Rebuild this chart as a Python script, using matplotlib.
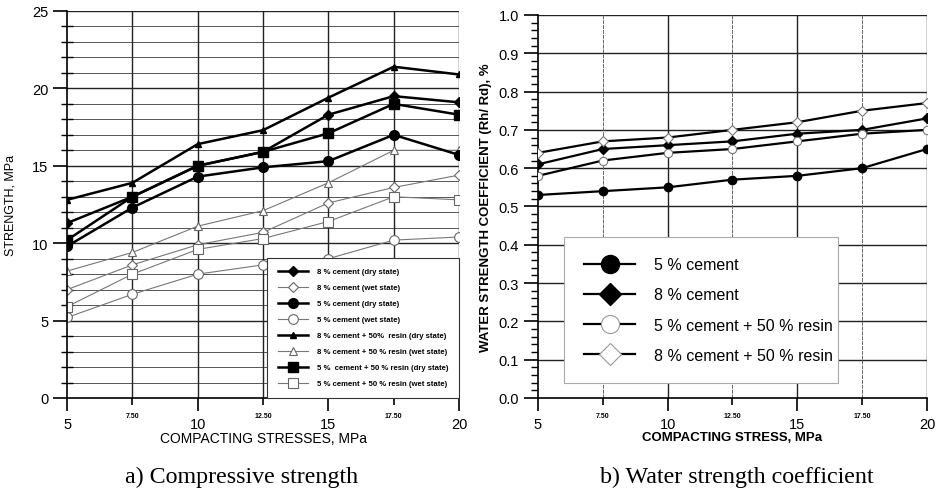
import matplotlib
matplotlib.use("Agg")
import matplotlib.pyplot as plt
from matplotlib.ticker import MultipleLocator, FixedLocator, FixedFormatter, FormatStrFormatter
from matplotlib.lines import Line2D

plt.rcParams['font.family'] = ['Liberation Sans', 'DejaVu Sans']

stress = [5, 7.5, 10, 12.5, 15, 17.5, 20]

# Compressive strength (MPa)
c8_dry = [11.3, 13.0, 15.0, 15.9, 18.3, 19.5, 19.1]
c8_wet = [7.0, 8.6, 9.9, 10.7, 12.6, 13.6, 14.4]
c5_dry = [9.8, 12.3, 14.3, 14.9, 15.3, 17.0, 15.7]
c5_wet = [5.2, 6.7, 8.0, 8.6, 9.0, 10.2, 10.4]
c8r_dry = [12.8, 13.9, 16.4, 17.3, 19.4, 21.4, 20.9]
c8r_wet = [8.2, 9.4, 11.1, 12.1, 13.9, 16.0, 16.0]
c5r_dry = [10.2, 13.0, 15.0, 15.9, 17.1, 19.0, 18.3]
c5r_wet = [5.9, 8.0, 9.6, 10.3, 11.4, 13.0, 12.8]

# Water strength coefficient
w5 = [0.53, 0.54, 0.55, 0.57, 0.58, 0.60, 0.65]
w8 = [0.61, 0.65, 0.66, 0.67, 0.69, 0.70, 0.73]
w5r = [0.58, 0.62, 0.64, 0.65, 0.67, 0.69, 0.70]
w8r = [0.64, 0.67, 0.68, 0.70, 0.72, 0.75, 0.77]

major_x = [5, 10, 15, 20]
minor_x = [7.5, 12.5, 17.5]
minor_x_labels = ['7.50', '12.50', '17.50']

fig = plt.figure(figsize=(9.43, 5.02), dpi=100)


def style_x(ax):
    ax.xaxis.set_major_locator(FixedLocator(major_x))
    ax.xaxis.set_minor_locator(FixedLocator(minor_x))
    ax.xaxis.set_minor_formatter(FixedFormatter(minor_x_labels))
    ax.tick_params(axis='x', which='major', length=9.5, width=1.2, labelsize=10.5, pad=4)
    ax.tick_params(axis='x', which='minor', length=5, width=1.2, labelsize=5, pad=5)
    for lab in ax.get_xticklabels(which='minor'):
        lab.set_fontweight('bold')
    for sp in ['top', 'right']:
        ax.spines[sp].set_visible(False)
    ax.spines['left'].set_linewidth(1.2)
    ax.spines['bottom'].set_linewidth(1.2)


# ---------------- Left chart ----------------
ax1 = fig.add_axes([0.0711, 0.2052, 0.4157, 0.7709])
ax1.set_xlim(5, 20)
ax1.set_ylim(0, 25)
style_x(ax1)

for y in range(1, 26):
    ax1.axhline(y, color='#222222' if y % 5 == 0 else '#555555',
                lw=1.0 if y % 5 == 0 else 0.7, zorder=0)
for x in stress[1:]:
    ax1.axvline(x, color='#222222', lw=1.0, zorder=0)

ax1.yaxis.set_major_locator(MultipleLocator(5))
ax1.yaxis.set_minor_locator(MultipleLocator(1))
ax1.tick_params(axis='y', which='major', length=10, width=1.2, labelsize=10.5, pad=3.5)
ax1.tick_params(axis='y', which='minor', direction='inout', length=8, width=1.0)

ax1.set_xlabel('COMPACTING STRESSES, MPa', fontsize=10, labelpad=0)
ax1.set_ylabel('STRENGTH, MPa', fontsize=9, labelpad=11)

dry_kw = dict(color='black', lw=1.8, zorder=3)
wet_kw = dict(color='#777777', lw=0.8, markerfacecolor='white',
              markeredgecolor='#666666', markeredgewidth=0.8, zorder=2)

ax1.plot(stress, c8_dry, marker='D', markersize=5, label='8 % cement (dry state)', **dry_kw)
ax1.plot(stress, c8_wet, marker='D', markersize=5, label='8 % cement (wet state)', **wet_kw)
ax1.plot(stress, c5_dry, marker='o', markersize=7, label='5 % cement (dry state)', **dry_kw)
ax1.plot(stress, c5_wet, marker='o', markersize=7, label='5 % cement (wet state)', **wet_kw)
ax1.plot(stress, c8r_dry, marker='^', markersize=5, label='8 % cement + 50%  resin (dry state)', **dry_kw)
ax1.plot(stress, c8r_wet, marker='^', markersize=6, label='8 % cement + 50 % resin (wet state)', **wet_kw)
ax1.plot(stress, c5r_dry, marker='s', markersize=7, label='5 %  cement + 50 % resin (dry state)', **dry_kw)
ax1.plot(stress, c5r_wet, marker='s', markersize=7, label='5 % cement + 50 % resin (wet state)', **wet_kw)

leg1 = ax1.legend(loc='lower right', bbox_to_anchor=(1.0, 0.0), fontsize=5.6,
                  handlelength=3.9, labelspacing=1.1, borderpad=1.35,
                  handletextpad=1.15, frameon=True, fancybox=False,
                  edgecolor='#333333', framealpha=1.0, borderaxespad=0.0)
leg1.get_frame().set_linewidth(0.8)
for t in leg1.get_texts():
    t.set_fontweight('bold')

# ---------------- Right chart ----------------
ax2 = fig.add_axes([0.5705, 0.2052, 0.4125, 0.763])
ax2.set_xlim(5, 20)
ax2.set_ylim(0, 1.0)
style_x(ax2)

for i in range(1, 11):
    ax2.axhline(i / 10, color='#222222', lw=1.0, zorder=0)
for x in minor_x:
    ax2.axvline(x, color='#666666', lw=0.7, ls=(0, (4, 1)), zorder=0)
for x in [10, 15, 20]:
    ax2.axvline(x, color='#222222', lw=1.0, zorder=0)

ax2.yaxis.set_major_locator(MultipleLocator(0.1))
ax2.yaxis.set_minor_locator(MultipleLocator(0.02))
ax2.yaxis.set_major_formatter(FormatStrFormatter('%.1f'))
ax2.tick_params(axis='y', which='major', length=10, width=1.2, labelsize=10.5, pad=3.5)
ax2.tick_params(axis='y', which='minor', length=5, width=1.0)

ax2.set_xlabel('COMPACTING STRESS, MPa', fontsize=9.5, fontweight='bold', labelpad=0)
ax2.set_ylabel('WATER STRENGTH COEFFICIENT (Rh/ Rd), %', fontsize=9.5, fontweight='bold', labelpad=5)

lk = dict(color='black', lw=1.6, zorder=3)
ax2.plot(stress, w5, marker='o', markersize=6, **lk)
ax2.plot(stress, w8, marker='D', markersize=5, **lk)
ax2.plot(stress, w5r, marker='o', markersize=6, markerfacecolor='white',
         markeredgecolor='#777777', markeredgewidth=0.8, **lk)
ax2.plot(stress, w8r, marker='D', markersize=5, markerfacecolor='white',
         markeredgecolor='#777777', markeredgewidth=0.8, **lk)

handles = [
    Line2D([], [], color='black', lw=1.6, marker='o', markersize=13),
    Line2D([], [], color='black', lw=1.6, marker='D', markersize=11),
    Line2D([], [], color='black', lw=1.6, marker='o', markersize=13,
           markerfacecolor='white', markeredgecolor='#999999', markeredgewidth=0.8),
    Line2D([], [], color='black', lw=1.6, marker='D', markersize=11,
           markerfacecolor='white', markeredgecolor='#999999', markeredgewidth=0.8),
]
labels2 = ['5 % cement', '8 % cement', '5 % cement + 50 % resin', '8 % cement + 50 % resin']
leg2 = ax2.legend(handles, labels2, loc='lower left', bbox_to_anchor=(0.067, 0.04, 0.704, 0.383),
                  mode='expand', fontsize=11.5, handlelength=3.2, labelspacing=0.95,
                  borderpad=1.25, handletextpad=1.2, frameon=True, fancybox=False,
                  edgecolor='#aaaaaa', framealpha=1.0, borderaxespad=0.0)
leg2.get_frame().set_linewidth(0.8)

# captions
fig.text(0.256, 0.048, 'a) Compressive strength', fontsize=17.3,
         family='Liberation Serif', ha='center', va='center')
fig.text(0.781, 0.048, 'b) Water strength coefficient', fontsize=17.3,
         family='Liberation Serif', ha='center', va='center')

fig.savefig('out.png', dpi=100)
